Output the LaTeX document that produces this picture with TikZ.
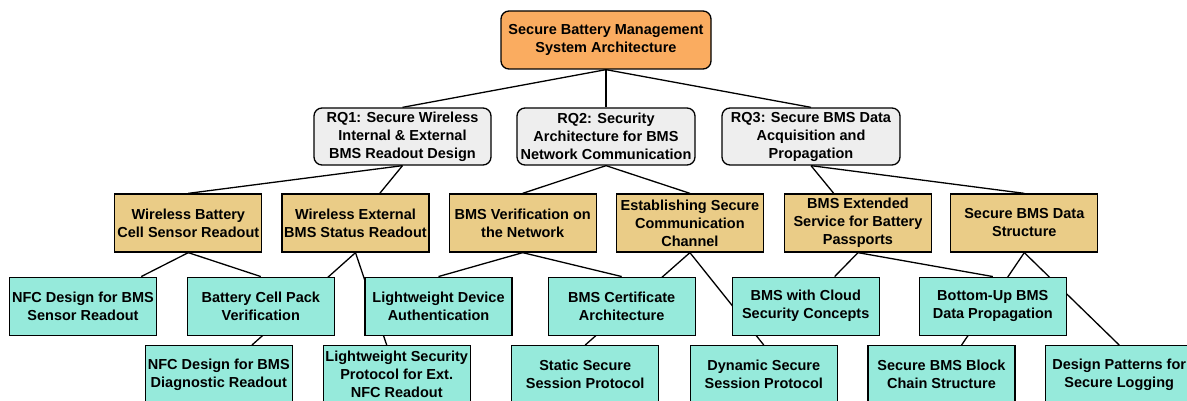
\documentclass[tikz,border=0pt]{standalone}
\usepackage{fontspec}
\setmainfont{Liberation Sans}
\usetikzlibrary{backgrounds}

\definecolor{rootfill}{HTML}{FAAC60}
\definecolor{rqfill}{HTML}{EEEEEE}
\definecolor{topicfill}{HTML}{EACC87}
\definecolor{leaffill}{HTML}{96EADB}

\tikzset{
  box/.style={draw=black, line width=1.3pt, align=center, inner sep=1pt,
    font=\bfseries\fontsize{14.5}{18}\selectfont, text=black},
  rootbox/.style={box, fill=rootfill, rounded corners=8pt,
    minimum width=210pt, minimum height=58pt},
  rqbox/.style={box, fill=rqfill, rounded corners=8pt,
    minimum width=178pt, minimum height=57pt},
  topicbox/.style={box, fill=topicfill, minimum width=147pt, minimum height=58pt},
  leafbox/.style={box, fill=leaffill, minimum width=147pt, minimum height=58pt},
  link/.style={draw=black, line width=1.3pt}
}

\begin{document}
\begin{tikzpicture}[x=1pt, y=-1pt]
\useasboundingbox (0,0) rectangle (1187,401);
\clip (0,0) rectangle (1187,401);

% root
\node[rootbox] (root) at (606,40) {Secure Battery Management\\System Architecture};

% research questions
\node[rqbox, minimum width=177pt] (rq1) at (402.5,136.5) {RQ1: Secure Wireless\\Internal \& External\\BMS Readout Design};
\node[rqbox] (rq2) at (606,136.5) {RQ2: Security\\Architecture for BMS\\Network Communication};
\node[rqbox] (rq3) at (811,136.5) {RQ3: Secure BMS Data\\Acquisition and\\Propagation};

% topics
\node[topicbox] (wb) at (188.3,223) {Wireless Battery\\Cell Sensor Readout};
\node[topicbox] (we) at (355.5,223) {Wireless External\\BMS Status Readout};
\node[topicbox] (bv) at (522.7,223) {BMS Verification on\\the Network};
\node[topicbox] (es) at (689.9,223) {Establishing Secure\\Communication\\Channel};
\node[topicbox] (be) at (858,223) {BMS Extended\\Service for Battery\\Passports};
\node[topicbox] (sd) at (1024.3,223) {Secure BMS Data\\Structure};

% work packages, upper row
\node[leafbox] (nfcs) at (83,306.2) {NFC Design for BMS\\Sensor Readout};
\node[leafbox] (bcp) at (260.8,306.2) {Battery Cell Pack\\Verification};
\node[leafbox] (lda) at (438.5,306.2) {Lightweight Device\\Authentication};
\node[leafbox] (cert) at (621.7,306.2) {BMS Certificate\\Architecture};
\node[leafbox] (cloud) at (805.7,306.2) {BMS with Cloud\\Security Concepts};
\node[leafbox] (bup) at (992.8,306.2) {Bottom-Up BMS\\Data Propagation};

% work packages, lower row
\node[leafbox] (nfcd) at (218.8,374.7) {NFC Design for BMS\\Diagnostic Readout};
\node[leafbox] (lsp) at (396.7,374.7) {Lightweight Security\\Protocol for Ext.\\NFC Readout};
\node[leafbox] (static) at (585.2,374.7) {Static Secure\\Session Protocol};
\node[leafbox] (dyn) at (763.8,374.7) {Dynamic Secure\\Session Protocol};
\node[leafbox] (chain) at (941.5,374.7) {Secure BMS Block\\Chain Structure};
\node[leafbox] (dp) at (1119.2,374.7) {Design Patterns for\\Secure Logging};

% connectors behind the boxes
\begin{scope}[on background layer]
  \draw[link] (root.south) -- (rq1.north);
  \draw[link] (root.south) -- (rq2.north);
  \draw[link] (root.south) -- (rq3.north);

  \draw[link] (rq1.south) -- (wb.north);
  \draw[link] (rq1.south) -- (we);
  \draw[link] (rq2.south) -- (bv.north);
  \draw[link] (rq2.south) -- (es.north);
  \draw[link] (rq3.south) -- (be);
  \draw[link] (rq3.south) -- (sd.north);

  \draw[link] (wb.south) -- (nfcs);
  \draw[link] (wb.south) -- (bcp.north);
  \draw[link] (we.south) -- (nfcd);
  \draw[link] (we.south) -- (lsp);
  \draw[link] (bv.south) -- (lda.north);
  \draw[link] (bv.south) -- (cert.north);
  \draw[link] (es.south) -- (static.north);
  \draw[link] (es.south) -- (dyn.north);
  \draw[link] (be.south) -- (cloud);
  \draw[link] (be.south) -- (bup.north);
  \draw[link] (sd.south) -- (chain);
  \draw[link] (sd.south) -- (dp.north);
\end{scope}
\end{tikzpicture}
\end{document}
